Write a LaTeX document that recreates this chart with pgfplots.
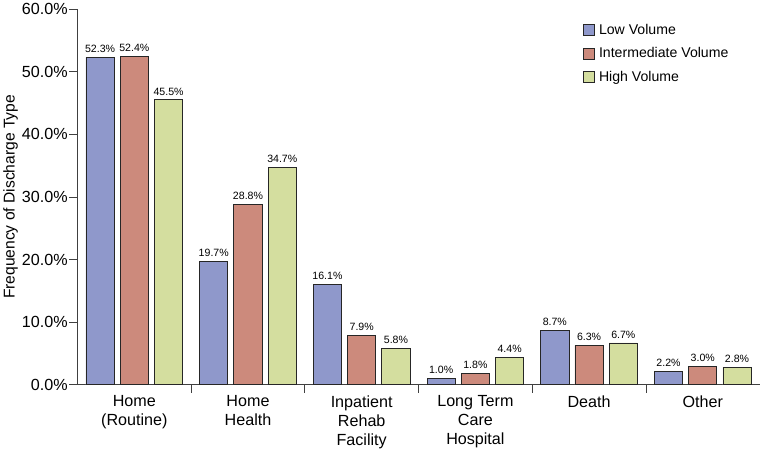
\documentclass[border=0pt]{standalone}
\usepackage{pgfplots}
\pgfplotsset{compat=1.18}
\usepackage{fontspec}
\setmainfont{Liberation Sans}
\definecolor{cLow}{HTML}{8F98CB}
\definecolor{cMid}{HTML}{CC8A7C}
\definecolor{cHigh}{HTML}{D4DE9F}
\begin{document}
\begin{tikzpicture}
\begin{axis}[
  width=677pt, height=373pt, scale only axis,
  ybar=6pt, bar width=28pt,
  xmin=-0.5, xmax=5.5, ymin=0, ymax=60,
  axis lines*=left,
  axis line style={black!75, line width=0.8pt},
  xtick={0,1,2,3,4,5},
  xticklabels={Home\\(Routine), Home\\Health, Inpatient\\Rehab\\Facility, Long Term\\Care\\Hospital, Death, Other},
  xticklabel style={align=center, font=\fontsize{16}{19}\selectfont, yshift=1pt},
  major x tick style={draw=none},
  minor xtick={0.5,1.5,2.5,3.5,4.5},
  minor x tick style={black!75, line width=0.8pt},
  minor tick length=8pt,
  ytick={0,10,...,60},
  yticklabel={\pgfmathprintnumber[fixed,fixed zerofill,precision=1]{\tick}\%},
  /pgf/number format/assume math mode=true,
  yticklabel style={font=\fontsize{16}{18}\selectfont, inner xsep=1.5pt},
  y tick style={black!75, line width=0.8pt},
  ytick pos=left, xtick pos=bottom,
  tick align=outside,
  major tick length=8pt,
  ylabel={Frequency of Discharge Type},
  ylabel style={font=\fontsize{15.5}{18}\selectfont, yshift=-1pt},
  nodes near coords={\pgfmathprintnumber[fixed,fixed zerofill,precision=1]{\pgfplotspointmeta}\%},
  nodes near coords style={font=\fontsize{10.5}{12}\selectfont, black, yshift=1pt},
  legend style={at={(0.741,0.965)}, anchor=north west, draw=none, fill=none,
    font=\fontsize{14}{16}\selectfont, row sep=7.5pt, inner sep=0pt,
    nodes={inner xsep=4pt}},
  legend image code/.code={\draw[#1, draw=black!85] (0pt,-5.5pt) rectangle (11pt,5.5pt);},
  legend cell align=left,
]
\addplot[fill=cLow, draw=black!85, line width=0.8pt] coordinates {(0,52.3) (1,19.7) (2,16.1) (3,1.0) (4,8.7) (5,2.2)};
\addplot[fill=cMid, draw=black!85, line width=0.8pt] coordinates {(0,52.4) (1,28.8) (2,7.9) (3,1.8) (4,6.3) (5,3.0)};
\addplot[fill=cHigh, draw=black!85, line width=0.8pt] coordinates {(0,45.5) (1,34.7) (2,5.8) (3,4.4) (4,6.7) (5,2.8)};
\legend{Low Volume, Intermediate Volume, High Volume}
\end{axis}
\end{tikzpicture}
\end{document}
